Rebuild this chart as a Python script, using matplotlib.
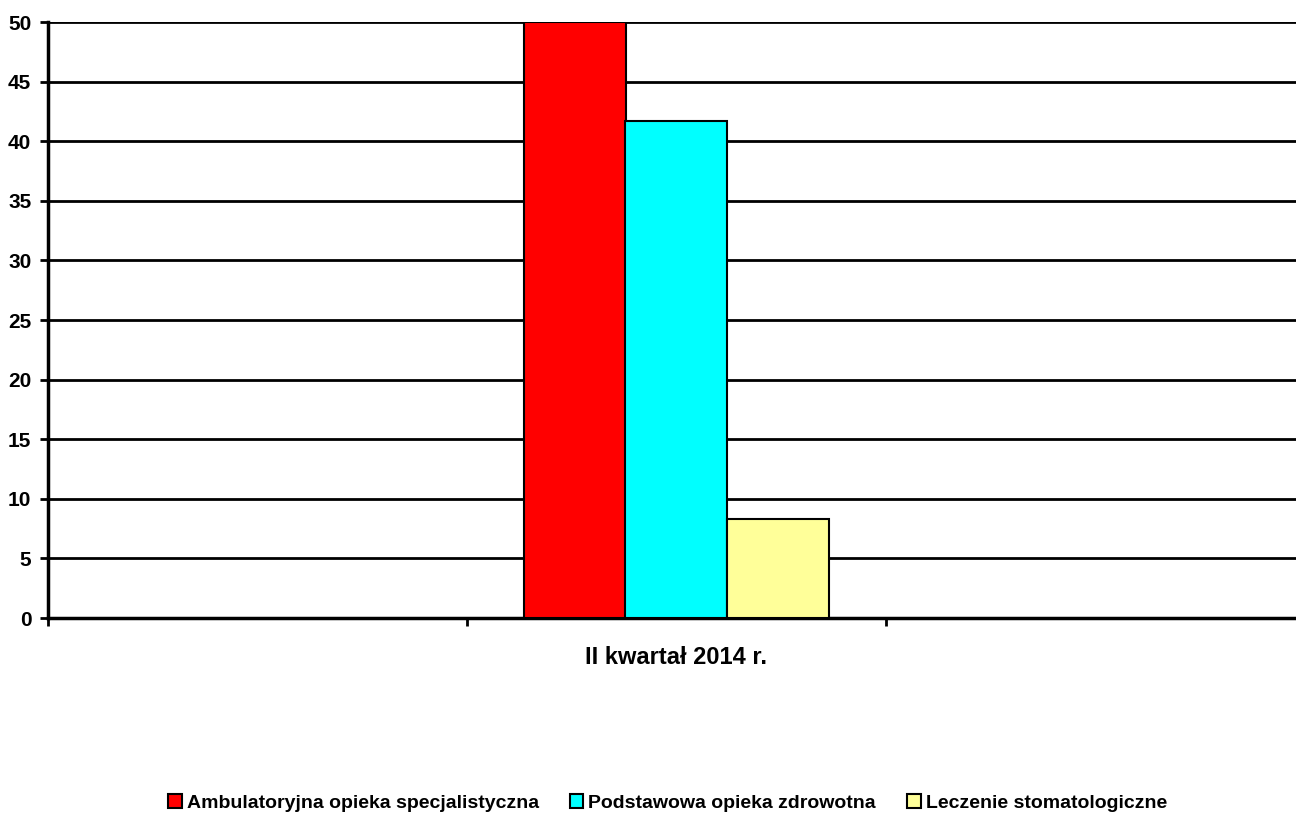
import matplotlib
matplotlib.use("Agg")
import matplotlib.pyplot as plt
from matplotlib.patches import Patch

categories = ["", "II kwartał 2014 r.", ""]
series_names = ["Ambulatoryjna opieka specjalistyczna",
                "Podstawowa opieka zdrowotna",
                "Leczenie stomatologiczne"]
series_values = [50.0, 41.7, 8.3]
colors = ["#FF0000", "#00FFFF", "#FFFF99"]
yticks = [0, 5, 10, 15, 20, 25, 30, 35, 40, 45, 50]

plt.rcParams['font.family'] = ['Liberation Sans', 'DejaVu Sans']
plt.rcParams['font.weight'] = 'bold'

fig = plt.figure(figsize=(12.96, 8.16), dpi=100)
ax = fig.add_axes([48/1296, 1 - 618/816, 1 - 48/1296, (618 - 22)/816])

unit = 419.0
ax.set_xlim(0, 1248/unit)
ax.set_ylim(0, 50)

bw = 102/unit
center = 1.5
for i, (v, c) in enumerate(zip(series_values, colors)):
    x = center + (i - 1) * bw
    ax.bar(x, v, width=bw, color=c, edgecolor='black', linewidth=1.5, zorder=3)

for y in yticks[1:]:
    ax.axhline(y, color='black', linewidth=2.0, zorder=1)

ax.set_yticks(yticks)
ax.set_yticklabels([str(t) for t in yticks], fontsize=15, fontweight='bold')
ax.set_xticks([0, 1, 2])
ax.set_xticklabels([])
ax.tick_params(axis='both', direction='out', length=6, width=2, color='black')
ax.tick_params(axis='y', pad=6)
ax.text(center, -3.3, categories[1], ha='center', va='center', fontsize=17, fontweight='bold')

for s in ['top', 'right']:
    ax.spines[s].set_visible(False)
for s in ['left', 'bottom']:
    ax.spines[s].set_linewidth(2.5)
    ax.spines[s].set_color('black')

handles = [Patch(facecolor=c, edgecolor='black', linewidth=1.5) for c in colors]
leg = fig.legend(handles, series_names, loc='center', bbox_to_anchor=(0.515, 1 - 803/816),
                 ncol=3, frameon=False, handlelength=0.7, handleheight=0.7,
                 handletextpad=0.25, columnspacing=1.6, prop={'weight': 'bold', 'size': 14})

fig.savefig("out.png", dpi=100)
